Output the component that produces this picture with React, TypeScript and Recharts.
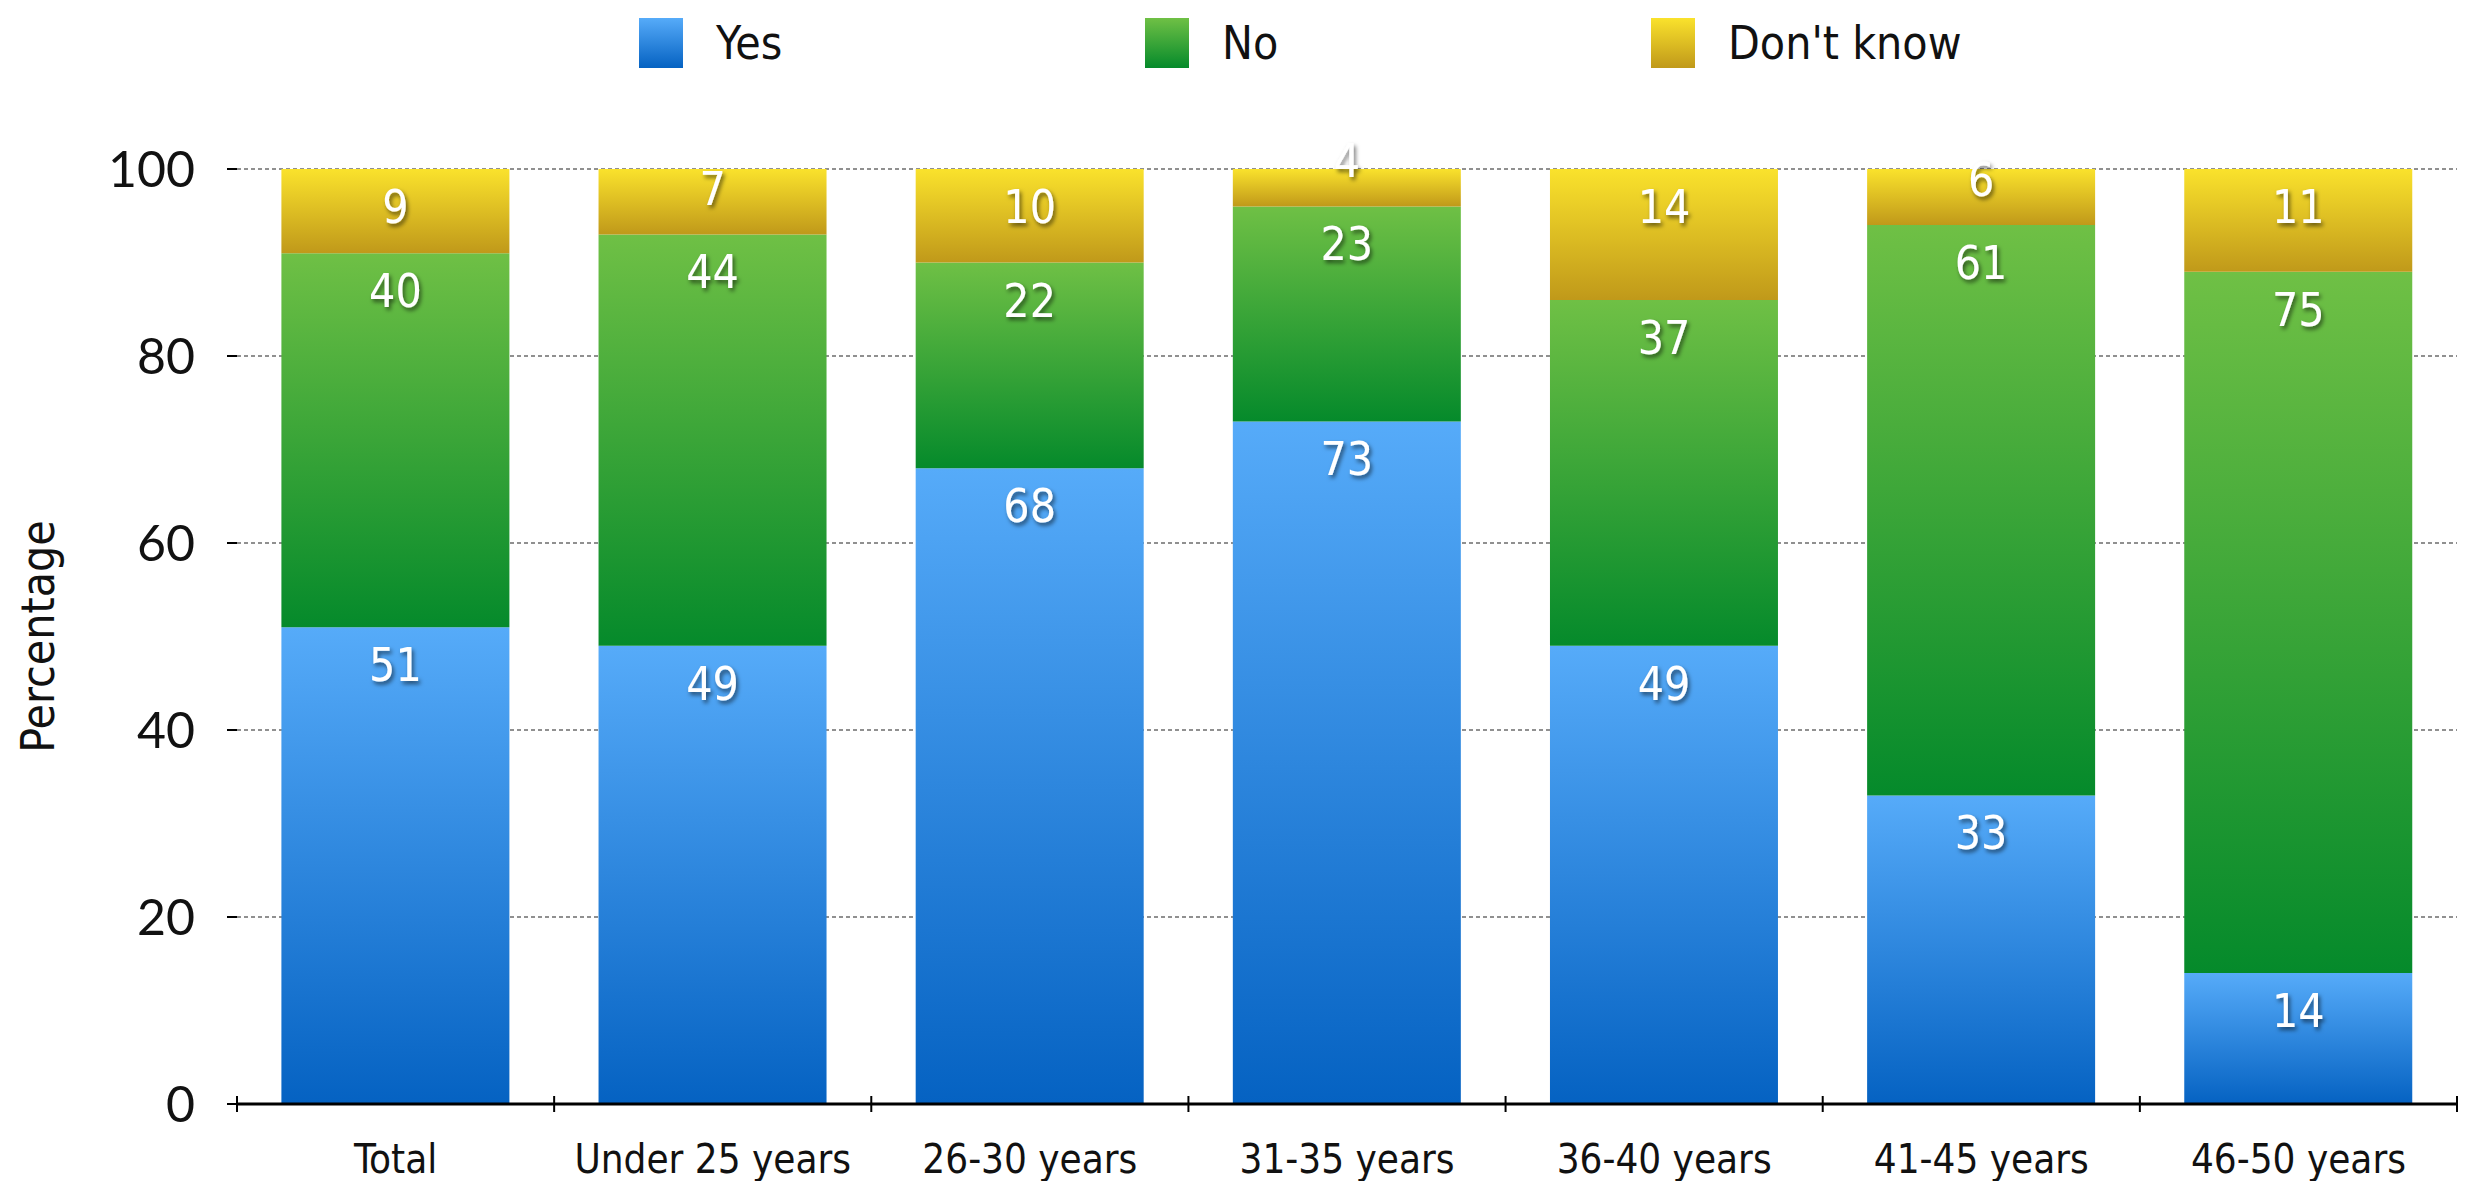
import React from "react";
import {
  BarChart,
  Bar,
  XAxis,
  YAxis,
  CartesianGrid,
  Legend,
  LabelList,
} from "recharts";

// Survey answers by age group
const groups = [
  "Total",
  "Under 25 years",
  "26-30 years",
  "31-35 years",
  "36-40 years",
  "41-45 years",
  "46-50 years",
];
const yesValues = [51, 49, 68, 73, 49, 33, 14];
const noValues = [40, 44, 22, 23, 37, 61, 75];
const dontKnowValues = [9, 7, 10, 4, 14, 6, 11];
const yTicks = [0, 20, 40, 60, 80, 100];

const seriesInfo = [
  { key: "yes", name: "Yes", grad: "gYes", top: "#56abf9", bottom: "#0562c2" },
  { key: "no", name: "No", grad: "gNo", top: "#6fc045", bottom: "#058a2b" },
  { key: "dk", name: "Don't know", grad: "gDk", top: "#fae22c", bottom: "#c0991a" },
];

const data = groups.map((group, i) => ({
  group,
  yes: yesValues[i],
  no: noValues[i],
  dk: dontKnowValues[i],
}));

const condensed = '"Liberation Sans Narrow", "DejaVu Sans Condensed", "Liberation Sans", sans-serif';

// white value label with a soft shadow, near the top of each segment
const ValueLabel = (props: any) => {
  const { x, y, width, height, value } = props;
  const off = Math.min(38, height - 45);
  return (
    <text
      x={x + width / 2}
      y={y + off}
      textAnchor="middle"
      dominantBaseline="central"
      fill="#fff"
      fontSize={46}
      fontFamily={condensed}
      filter="url(#lblShadow)"
    >
      {value}
    </text>
  );
};

// category tick: boundary marks crossing the axis plus the label
const GroupTick = (props: any) => {
  const { x, y, payload, index } = props;
  const half = payload && payload.offset ? payload.offset : 2220 / 7 / 2;
  return (
    <g>
      <line x1={x - half} x2={x - half} y1={y - 8} y2={y + 8} stroke="#000" strokeWidth={2} />
      {index === groups.length - 1 && (
        <line x1={x + half} x2={x + half} y1={y - 8} y2={y + 8} stroke="#000" strokeWidth={2} />
      )}
      <text x={x} y={y + 55} textAnchor="middle" dominantBaseline="central" fill="#111" fontSize={40} fontFamily={condensed}>
        {payload.value}
      </text>
    </g>
  );
};

const LegendBox = () => {
  const lefts = [631, 1137, 1643];
  return (
    <div style={{ position: "relative", height: 161 }}>
      {seriesInfo.map((s, i) => (
        <div key={s.key} style={{ position: "absolute", left: lefts[i], top: 8, display: "flex", alignItems: "center" }}>
          <div
            style={{
              width: 44,
              height: 50,
              background: `linear-gradient(${s.top}, ${s.bottom})`,
            }}
          />
          <span style={{ marginLeft: 33, fontSize: 46, fontFamily: condensed, color: "#111" }}>{s.name}</span>
        </div>
      ))}
    </div>
  );
};

export default function App() {
  return (
    <BarChart
      width={2463}
      height={1173}
      data={data}
      margin={{ top: 0, right: 14, left: 0, bottom: 0 }}
      barCategoryGap="14%"
    >
      <defs>
        {seriesInfo.map((s) => (
          <linearGradient key={s.grad} id={s.grad} x1="0" y1="0" x2="0" y2="1">
            <stop offset="0%" stopColor={s.top} />
            <stop offset="100%" stopColor={s.bottom} />
          </linearGradient>
        ))}
        <filter id="lblShadow" x="-30%" y="-30%" width="160%" height="160%">
          <feDropShadow dx="2" dy="3" stdDeviation="2" floodColor="#000" floodOpacity="0.55" />
        </filter>
      </defs>
      <Legend verticalAlign="top" content={<LegendBox />} />
      <CartesianGrid vertical={false} strokeDasharray="4 3" stroke="#909090" strokeWidth={2} />
      <XAxis
        dataKey="group"
        height={77}
        axisLine={{ stroke: "#000", strokeWidth: 3 }}
        tickLine={false}
        tickSize={0}
        tickMargin={0}
        interval={0}
        tick={<GroupTick />}
      />
      <YAxis
        width={229}
        domain={[0, 100]}
        ticks={yTicks}
        axisLine={false}
        tickLine={{ stroke: "#000", strokeWidth: 2 }}
        tickSize={10}
        tickMargin={32}
        tick={{ fontSize: 50, fill: "#111", fontFamily: "Lato, sans-serif" }}
        label={{
          value: "Percentage",
          angle: -90,
          position: "insideLeft",
          offset: 30,
          style: { textAnchor: "middle", fontSize: 46, fill: "#111", fontFamily: condensed },
        }}
      />
      {seriesInfo.map((s) => (
        <Bar key={s.key} dataKey={s.key} name={s.name} stackId="a" fill={`url(#${s.grad})`} isAnimationActive={false}>
          <LabelList dataKey={s.key} content={<ValueLabel />} />
        </Bar>
      ))}
    </BarChart>
  );
}
